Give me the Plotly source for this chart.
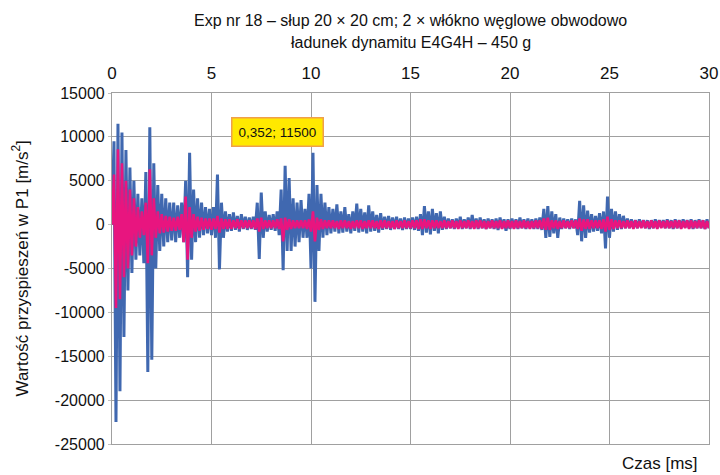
import plotly.graph_objects as go

# sample step of the recorded signals [ms]
STEP_MS = 0.1

# Blue signal (alternating peaks), m/s^2
blue_vals = [
    0, 9500, -22500, 11500, -19000, 10500, -12800, 8500, -7500, 6500,
    -5500, 5000, -4000, 3500, -3500, 3000, -4400, 6000, -16800, 11100,
    -15400, 7000, -5000, 4500, -3000, 3500, -2500, 3000, -2000, 2500,
    -1800, 2500, -2000, 2200, -1500, 2500, -2000, 5000, -6000, 8200,
    -4000, 4000, -2000, 3000, -1500, 2500, -1200, 2000, -1000, 1800,
    -1200, 2000, -1500, 5700, -5100, 2500, -1500, 1500, -800, 1200,
    -700, 1400, -600, 1000, -800, 1200, -500, 900, -600, 800,
    -500, 900, -600, 2500, -3900, 3650, -1500, 1500, -800, 1100,
    -600, 1200, -700, 1500, -1200, 4000, -5200, 6700, -3000, 5300,
    -3000, 3000, -2500, 2500, -2000, 2800, -1500, 1800, -1500, 3500,
    -5000, 8200, -8800, 4500, -3000, 3500, -1500, 2500, -1200, 2000,
    -1000, 1800, -800, 2300, -1000, 1500, -900, 2000, -800, 1200,
    -1000, 1500, -700, 2400, -900, 1800, -800, 1400, -1000, 2200,
    -800, 1500, -700, 1100, -900, 1300, -600, 900, -500, 1000,
    -600, 800, -500, 900, -500, 700, -600, 800, -500, 700,
    -500, 800, -600, 900, -700, 1200, -1200, 2100, -900, 1500,
    -1100, 1800, -700, 1300, -1000, 1500, -600, 900, -500, 700,
    -400, 600, -500, 700, -400, 900, -500, 600, -400, 800,
    -500, 1100, -400, 700, -500, 800, -400, 600, -500, 700,
    -400, 600, -500, 700, -600, 800, -400, 600, -700, 600,
    -500, 700, -400, 600, -500, 800, -400, 600, -500, 700,
    -400, 600, -500, 700, -500, 800, -600, 1800, -1500, 2100,
    -1400, 1500, -1000, 1200, -1500, 800, -500, 700, -400, 600,
    -500, 700, -400, 600, -1200, 2700, -1900, 2200, -1500, 1600,
    -900, 1200, -800, 1000, -700, 1300, -1000, 1500, -2700, 3200,
    -1500, 1800, -800, 1500, -600, 1200, -500, 1000, -400, 700,
    -400, 600, -400, 500, -400, 600, -300, 500, -400, 500,
    -500, 500, -400, 600, -400, 500, -300, 500, -400, 600,
    -400, 500, -500, 600, -400, 500, -400, 600, -300, 500,
    -400, 600, -500, 500, -400, 600, -400, 500, -500, 600,
    -400,
]

# Pink signal (alternating peaks), m/s^2
pink_vals = [
    0, 5700, -9500, 8600, -8500, 7000, -6000, 5000, -5000, 4000,
    -3500, 3000, -2500, 2000, -1500, 1500, -1200, 2500, -4400, 6300,
    -3500, 3000, -1500, 1500, -1000, 1200, -900, 1000, -800, 900,
    -700, 800, -700, 900, -600, 1200, -2000, 3200, -4000, 2000,
    -1500, 1200, -800, 900, -700, 800, -600, 700, -500, 700,
    -600, 700, -500, 1000, -900, 700, -500, 600, -500, 600,
    -500, 500, -400, 600, -500, 500, -400, 500, -400, 500,
    -400, 500, -500, 700, -800, 800, -500, 500, -400, 500,
    -400, 500, -400, 600, -500, 700, -1900, 800, -600, 600,
    -500, 500, -400, 500, -400, 500, -400, 500, -500, 600,
    -800, 1500, -1900, 800, -600, 600, -500, 500, -400, 500,
    -400, 500, -400, 400, -500, 500, -400, 500, -400, 400,
    -500, 400, -400, 500, -400, 500, -500, 400, -400, 500,
    -400, 500, -400, 400, -500, 500, -400, 500, -400, 400,
    -400, 400, -500, 500, -400, 400, -400, 500, -400, 400,
    -400, 500, -400, 500, -500, 600, -500, 600, -400, 500,
    -500, 500, -400, 500, -400, 400, -400, 500, -400, 400,
    -400, 500, -400, 400, -500, 500, -400, 400, -400, 500,
    -400, 400, -500, 500, -400, 500, -400, 400, -500, 400,
    -400, 500, -400, 400, -400, 500, -500, 400, -400, 500,
    -400, 400, -500, 500, -400, 400, -400, 500, -400, 400,
    -500, 400, -400, 500, -400, 500, -500, 700, -600, 800,
    -600, 500, -400, 500, -500, 400, -400, 500, -400, 400,
    -400, 500, -400, 500, -500, 700, -700, 600, -500, 600,
    -500, 500, -400, 500, -400, 500, -500, 600, -800, 900,
    -600, 600, -500, 500, -400, 500, -400, 400, -400, 500,
    -400, 400, -500, 500, -400, 400, -400, 500, -400, 400,
    -400, 500, -400, 400, -500, 500, -400, 400, -400, 500,
    -400, 400, -400, 500, -400, 500, -500, 400, -400, 500,
    -500, 500, -400, 400, -400, 500, -400, 500, -500, 400,
    -400,
]

time_ms = [round(i * STEP_MS, 1) for i in range(len(blue_vals))]

x_ticks = [0, 5, 10, 15, 20, 25, 30]
y_ticks = [15000, 10000, 5000, 0, -5000, -10000, -15000, -20000, -25000]
y_tick_text = ["15000", "10000", "5000", "0", "-5000", "-10000", "-15000", "-20000", "-25000"]

title_lines = ["Exp nr 18 – słup 20 × 20 cm; 2 × włókno węglowe obwodowo",
               "ładunek dynamitu E4G4H – 450 g"]
peak_label = "0,352; 11500"
x_title = "Czas [ms]"
y_title = "Wartość przyspieszeń w P1 [m/s<sup>2</sup>]"

FONT = "Liberation Sans, Arial, sans-serif"

fig = go.Figure()
fig.add_trace(go.Scatter(x=time_ms, y=blue_vals, mode="lines",
                         line=dict(color="#4068b0", width=3),
                         showlegend=False, hoverinfo="skip"))
fig.add_trace(go.Scatter(x=time_ms, y=pink_vals, mode="lines",
                         line=dict(color="#e8157f", width=2.6),
                         showlegend=False, hoverinfo="skip"))

fig.update_layout(
    width=720, height=475,
    margin=dict(l=112, r=11, t=93, b=31, autoexpand=False),
    paper_bgcolor="white", plot_bgcolor="white",
    font=dict(family=FONT, color="#111111"),
)

fig.update_xaxes(
    side="top", range=[0, 30], tickvals=x_ticks,
    showgrid=True, gridcolor="#a0a0a0", gridwidth=1.2,
    showline=True, linecolor="#a0a0a0", linewidth=1.2, mirror=True,
    zeroline=False, ticks="", ticklabelstandoff=6,
    tickfont=dict(size=17, family=FONT),
)
fig.update_yaxes(
    range=[-25000, 15000], tickvals=y_ticks, ticktext=y_tick_text,
    showgrid=True, gridcolor="#a0a0a0", gridwidth=1.2,
    showline=True, linecolor="#a0a0a0", linewidth=1.2, mirror=True,
    zeroline=False, ticks="outside", ticklen=3, tickcolor="#c0c0c0",
    tickfont=dict(size=16, family=FONT),
)

# title lines
for txt, py in zip(title_lines, [20, 42]):
    fig.add_annotation(x=0.5, y=(444 - py) / 351, xref="paper", yref="paper",
                       text=txt, showarrow=False, xanchor="center", yanchor="middle",
                       font=dict(size=16, family=FONT, color="#111111"))

fig.add_annotation(x=(20 - 112) / 597, y=0.5, xref="paper", yref="paper",
                   text=y_title, textangle=-90, showarrow=False,
                   xanchor="center", yanchor="middle",
                   font=dict(size=17, family=FONT, color="#111111"))

fig.add_annotation(x=8.3, y=10600, xref="x", yref="y", text=peak_label,
                   showarrow=False, font=dict(size=13.5, family=FONT, color="#111111"),
                   bgcolor="#ffe900", bordercolor="#f0a04a", borderwidth=1.5,
                   borderpad=6)
fig.add_annotation(x=(700 - 112) / 597, y=(444 - 463) / 351, xref="paper", yref="paper",
                   text=x_title, xanchor="right", yanchor="middle", showarrow=False,
                   font=dict(size=17, family=FONT, color="#111111"))

fig.write_html("out.html", config={"displayModeBar": False},
               post_script="document.body.style.margin='0';")
